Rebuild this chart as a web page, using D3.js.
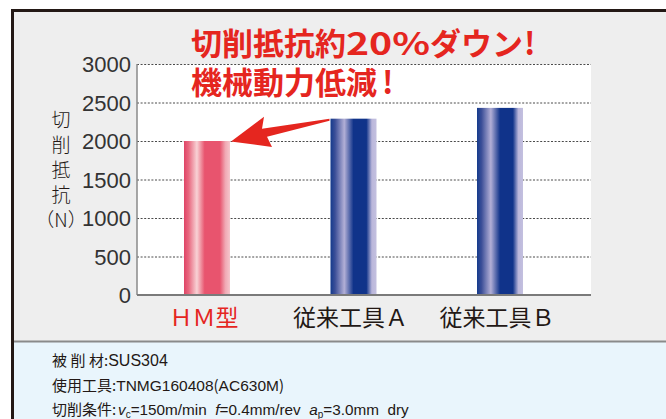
<!DOCTYPE html>
<html>
<head>
<meta charset="utf-8">
<script src="https://cdn.jsdelivr.net/npm/d3@7"></script>
<style>
  body { margin: 0; background: #fff; }
  svg { display: block; }
</style>
</head>
<body>
<svg id="chart" width="666" height="419"></svg>
<script>
// tools and their cutting force (N)
const tools = ['HM型', '従来工具A', '従来工具B'];
const toolLabels = ['ＨＭ型', '従来工具Ａ', '従来工具Ｂ'];
const forces = [2000, 2290, 2430];
const yTicks = [0, 500, 1000, 1500, 2000, 2500, 3000];
const yTitle = ['切', '削', '抵', '抗', '（N）'];

const red = '#e5261f';
const ink = '#231815';
const jp = '"Noto Sans CJK JP", "Noto Sans", sans-serif';
const narrow = '"Liberation Sans Narrow", "Liberation Sans", Arial, sans-serif';

const svg = d3.select('#chart');
const W = 666, H = 419;
const plot = { left: 137, right: 591, top: 64, bottom: 295 };

// frame + panels
svg.append('rect').attr('x', 11).attr('y', 9).attr('width', W).attr('height', H)
  .attr('fill', '#eeeeee');
svg.append('rect').attr('x', 11).attr('y', 341).attr('width', W).attr('height', H)
  .attr('fill', '#e9f5fc');
svg.append('line').attr('x1', 12).attr('x2', W).attr('y1', 341.5).attr('y2', 341.5)
  .attr('stroke', '#8a8a8a').attr('stroke-width', 2);
svg.append('line').attr('x1', 12.5).attr('x2', 12.5).attr('y1', 9).attr('y2', H)
  .attr('stroke', ink).attr('stroke-width', 3);
svg.append('line').attr('x1', 11).attr('x2', W).attr('y1', 10.5).attr('y2', 10.5)
  .attr('stroke', ink).attr('stroke-width', 3);

const y = d3.scaleLinear().domain([0, 3000]).range([plot.bottom, plot.top]);
const x = d3.scaleBand().domain(tools).range([133.75, 573.25])
  .paddingInner(0.686).paddingOuter(0.343);

svg.append('rect')
  .attr('x', plot.left).attr('y', plot.top)
  .attr('width', plot.right - plot.left).attr('height', plot.bottom - plot.top)
  .attr('fill', '#fff');

// gradients
const defs = svg.append('defs');
function gradient(id, stops) {
  const g = defs.append('linearGradient').attr('id', id)
    .attr('x1', 0).attr('x2', 1).attr('y1', 0).attr('y2', 0);
  stops.forEach(([o, c]) => g.append('stop').attr('offset', o).attr('stop-color', c));
}
gradient('gRed', [[0, '#df4466'], [0.1, '#e8687f'], [0.28, '#f8d2d5'], [0.45, '#e8546e'],
  [0.78, '#e8546e'], [0.9, '#f0a9b4'], [1, '#f6c7cd']]);
gradient('gBlue', [[0, '#143a8c'], [0.1, '#3c4f98'], [0.3, '#b2afd6'], [0.5, '#10338a'],
  [0.78, '#10338a'], [0.9, '#bbb7db'], [1, '#c3c0df']]);

// grid
const yAxis = d3.axisLeft(y).tickValues(yTicks).tickSize(-(plot.right - plot.left))
  .tickPadding(6).tickFormat(d3.format('d'));
const yAxisG = svg.append('g').attr('transform', `translate(${plot.left},0)`).call(yAxis);
yAxisG.select('.domain').remove();
yAxisG.selectAll('.tick line')
  .attr('stroke', '#4a4a4a').attr('stroke-dasharray', '2,1.6').attr('stroke-width', 1);
yAxisG.selectAll('.tick').filter((d) => d === 0).select('line').remove();
yAxisG.selectAll('.tick text')
  .attr('font-family', narrow).attr('font-size', 22).attr('fill', '#333')
  .attr('dy', '0.36em');

// bars
svg.selectAll('.bar').data(tools).enter().append('rect')
  .attr('class', 'bar')
  .attr('x', (d) => x(d))
  .attr('y', (d, i) => y(forces[i]))
  .attr('width', x.bandwidth())
  .attr('height', (d, i) => y(0) - y(forces[i]))
  .attr('fill', (d, i) => (i === 0 ? 'url(#gRed)' : 'url(#gBlue)'));

// axis lines
svg.append('line').attr('x1', plot.left).attr('x2', plot.left)
  .attr('y1', plot.top).attr('y2', plot.bottom)
  .attr('stroke', '#8a8a8a').attr('stroke-width', 1.5);
svg.append('line').attr('x1', plot.left).attr('x2', plot.right)
  .attr('y1', plot.bottom).attr('y2', plot.bottom)
  .attr('stroke', '#7a7a7a').attr('stroke-width', 2);

// x labels
svg.selectAll('.xl').data(tools).enter().append('text')
  .attr('x', (d) => x(d) + x.bandwidth() / 2 - 3)
  .attr('y', 326)
  .attr('text-anchor', 'middle')
  .attr('font-family', jp).attr('font-size', 23)
  .attr('fill', (d, i) => (i === 0 ? red : ink))
  .text((d, i) => toolLabels[i]);

// y title (vertical)
svg.selectAll('.yt').data(yTitle).enter().append('text')
  .attr('x', 61).attr('y', (d, i) => 127 + i * 25)
  .attr('text-anchor', 'middle')
  .attr('font-family', jp).attr('font-size', 19).attr('font-weight', 300)
  .attr('fill', ink)
  .text((d) => d);

// headline
const head = svg.append('g').attr('font-family', jp).attr('font-weight', 'bold')
  .attr('font-size', 31).attr('fill', red);
const h1 = head.append('text').attr('x', 191).attr('y', 55);
h1.append('tspan').text('切削抵抗約');
h1.append('tspan').attr('textLength', 84).attr('lengthAdjust', 'spacingAndGlyphs').text('20%');
h1.append('tspan').text('ダウン');
h1.append('tspan').attr('dx', 1).text('!');
const h2 = head.append('text').attr('x', 191).attr('y', 94);
h2.append('tspan').text('機械動力低減');
h2.append('tspan').attr('dx', 5).text('!');

// arrow from tool A down to HM
const tipX = x(tools[0]) + x.bandwidth() + 1, tipY = y(forces[0]);
const tailX = x(tools[1]) - 1, tailY = y(forces[1]);
const arrow = [
  [tipX, tipY + 0.5],
  [tipX + 33, tailY - 2],
  [tipX + 31, tailY + 10],
  [tailX, tailY],
  [tailX, tailY + 2],
  [tipX + 36, tailY + 18],
  [tipX + 41, tipY + 6],
];
svg.append('path').attr('d', d3.line()(arrow) + 'Z').attr('fill', red);

// footnote
const notes = svg.append('g').attr('font-family', jp).attr('font-size', 15).attr('fill', ink);
const n1 = notes.append('text').attr('x', 52).attr('y', 366);
n1.append('tspan').attr('letter-spacing', 3.5).text('被削');
n1.append('tspan').text('材:');
n1.append('tspan').attr('font-family', narrow).attr('font-size', 16).text('SUS304');
const n2 = notes.append('text').attr('x', 52).attr('y', 391);
n2.append('tspan').text('使用工具:');
n2.append('tspan').attr('font-family', narrow).attr('font-size', 15.5).text('TNMG160408');
n2.append('tspan').text('(');
n2.append('tspan').attr('font-family', narrow).attr('font-size', 15.5).text('AC630M');
n2.append('tspan').text(')');
const n3 = notes.append('text').attr('x', 52).attr('y', 415);
n3.append('tspan').text('切削条件:');
const cond = notes.append('text').attr('x', 118).attr('y', 415)
  .attr('font-family', narrow).attr('font-size', 15.3)
  .attr('xml:space', 'preserve').style('white-space', 'pre');
cond.append('tspan').attr('font-style', 'italic').text('v');
cond.append('tspan').attr('font-size', 10).attr('dy', 3).text('c');
cond.append('tspan').attr('dy', -3).text('=150m/min  ');
cond.append('tspan').attr('font-style', 'italic').text('f');
cond.append('tspan').text('=0.4mm/rev  ');
cond.append('tspan').attr('font-style', 'italic').text('a');
cond.append('tspan').attr('font-size', 10).attr('dy', 3).text('p');
cond.append('tspan').attr('dy', -3).text('=3.0mm  dry');
</script>
</body>
</html>
